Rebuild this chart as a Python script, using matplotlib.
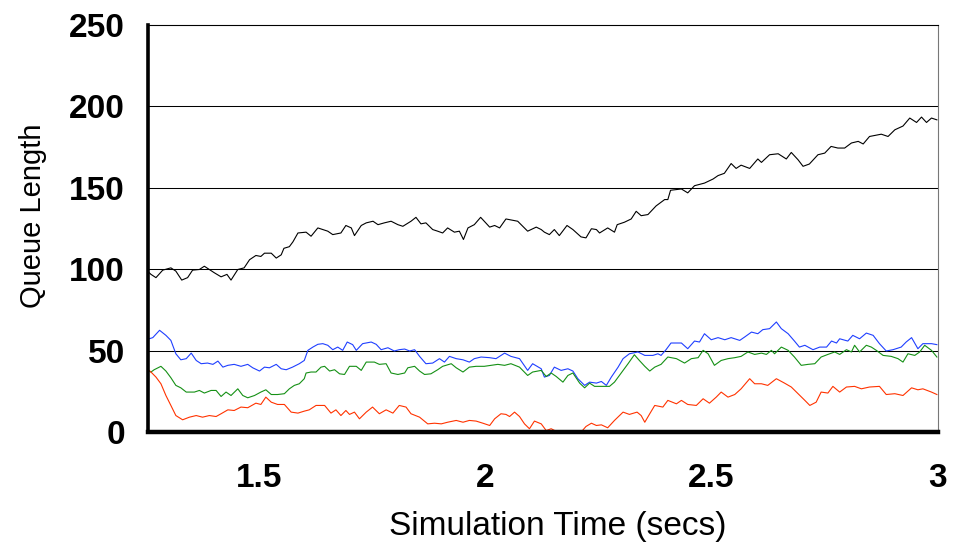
import matplotlib
matplotlib.use("Agg")
import matplotlib.pyplot as plt
import numpy as np

# ---------------- data ----------------
black_t = [1.257, 1.261, 1.272, 1.287, 1.305, 1.316, 1.329, 1.342, 1.353, 1.368, 1.379,
           1.390, 1.401, 1.416, 1.429, 1.438, 1.453, 1.467, 1.479, 1.493, 1.504,
           1.512, 1.527, 1.538, 1.549, 1.555, 1.567, 1.575, 1.586, 1.604, 1.615,
           1.630, 1.641, 1.652, 1.663, 1.681, 1.692, 1.704, 1.711, 1.726, 1.737,
           1.752, 1.763, 1.777, 1.792, 1.807, 1.818, 1.836, 1.847, 1.858, 1.869,
           1.884, 1.895, 1.906, 1.917, 1.932, 1.943, 1.952, 1.962, 1.976, 1.990,
           2.010, 2.021, 2.032, 2.046, 2.072, 2.094, 2.113, 2.124,
           2.131, 2.142, 2.153, 2.164, 2.181, 2.194, 2.212, 2.223, 2.235, 2.246,
           2.253, 2.271, 2.286, 2.292, 2.308, 2.323, 2.334, 2.345, 2.360, 2.378,
           2.397, 2.404, 2.410, 2.434, 2.448, 2.463, 2.485, 2.504, 2.515, 2.529,
           2.544, 2.555, 2.566, 2.585, 2.603, 2.611, 2.629, 2.648, 2.666, 2.677,
           2.692, 2.703, 2.717, 2.736, 2.751, 2.765, 2.780, 2.795, 2.810, 2.825,
           2.836, 2.850, 2.876, 2.891, 2.906, 2.924, 2.939, 2.954, 2.965, 2.976,
           2.987, 2.999]
black_q = [98, 97, 95, 99.6, 101, 99, 93.5, 95, 99.6, 100, 102,
           100, 98, 95.5, 97, 93.5, 100, 101, 106, 108.6, 108,
           110, 110, 107, 109, 113, 114, 117, 122.4, 122.9, 120.4,
           125.5, 124.5, 123.5, 121.4, 122.4, 127, 125.5, 120.8, 127, 128.6,
           129.6, 127.5, 128.6, 129.6, 127.5, 126.5, 129.6, 132, 128, 128.6,
           124.5, 123.5, 122.4, 125.5, 122.9, 123.5, 118.4, 125.5, 127.5, 132,
           126, 127, 125.5, 131, 129.6, 123.5, 126, 124.5,
           122.9, 121.4, 124.5, 120.8, 127, 124.5, 120, 119.4, 125, 124.5,
           122.4, 125.5, 122.9, 127.5, 129, 131, 135.7, 133, 133.7, 139,
           142.9, 142.9, 148.6, 149.4, 147, 151.4, 153, 155.5, 157.6, 159,
           165, 162, 164, 162, 167.8, 165.7, 170.4, 171, 167.8, 171.8,
           167.3, 163.3, 164.7, 170.4, 171.4, 175.5, 174.5, 174.5, 177.6, 178.6,
           177, 181.6, 183, 181.6, 185.7, 188, 192.9, 190.2, 193.5, 190.2,
           192.9, 191.8]

blue_t = [1.257, 1.265, 1.280, 1.294, 1.305, 1.316, 1.327, 1.339, 1.350, 1.361, 1.372,
          1.386, 1.398, 1.409, 1.420, 1.431, 1.445, 1.460, 1.475, 1.486, 1.501,
          1.512, 1.523, 1.538, 1.549, 1.560, 1.574, 1.589, 1.600, 1.608, 1.619,
          1.630, 1.641, 1.652, 1.663, 1.674, 1.685, 1.695, 1.707, 1.715, 1.729,
          1.748, 1.759, 1.770, 1.785, 1.799, 1.810, 1.822, 1.833, 1.844, 1.855,
          1.869, 1.884, 1.899, 1.910, 1.921, 1.936, 1.951, 1.965, 1.976, 1.991,
          2.010, 2.024, 2.043, 2.057, 2.076, 2.094, 2.105, 2.124,
          2.131, 2.142, 2.153, 2.168, 2.183, 2.194, 2.205, 2.220, 2.231, 2.246,
          2.257, 2.268, 2.279, 2.294, 2.305, 2.319, 2.338, 2.353, 2.371, 2.382,
          2.389, 2.400, 2.411, 2.434, 2.448, 2.463, 2.474, 2.485, 2.500, 2.515,
          2.530, 2.544, 2.563, 2.574, 2.589, 2.603, 2.614, 2.629, 2.644, 2.655,
          2.670, 2.684, 2.695, 2.707, 2.725, 2.740, 2.755, 2.766, 2.777, 2.784,
          2.802, 2.813, 2.828, 2.843, 2.858, 2.872, 2.887, 2.902, 2.920, 2.931,
          2.943, 2.957, 2.968, 2.987, 2.999]
blue_q = [57.5, 58.2, 62.7, 59.6, 56.5, 48.3, 44.6, 45.3, 48.7, 44.2, 42.2,
          42.6, 41.8, 43.8, 40.1, 41.2, 41.8, 40.6, 41.8, 39.7, 37.7,
          40.1, 39.7, 41.8, 39.1, 38.5, 40.1, 42.2, 44.2, 50.4, 52.4,
          54.1, 54.5, 53.5, 50.8, 52.4, 50.4, 55.5, 53.9, 50.4, 54.5,
          55.5, 54.1, 50.8, 52.0, 50.0, 50.8, 51.2, 50.0, 50.8, 46.7,
          42.2, 42.6, 45.3, 43.2, 46.7, 45.3, 44.6, 43.2, 45.3, 46.3,
          45.9, 45.3, 48.7, 46.7, 45.3, 38.1, 42.2, 39.1,
          34.0, 35.0, 40.1, 38.1, 39.1, 37.7, 33.0, 28.9, 30.9, 30.3,
          31.3, 28.9, 34.0, 40.1, 45.3, 48.3, 49.4, 47.3, 47.3, 48.3,
          47.3, 50.8, 54.9, 54.9, 51.4, 56.1, 55.5, 60.6, 56.9, 58.2,
          56.9, 58.2, 56.5, 58.6, 61.6, 60.6, 63.1, 63.7, 67.8, 63.7,
          60.6, 56.1, 52.4, 53.5, 50.8, 52.4, 52.4, 56.1, 54.9, 57.5,
          56.1, 59.6, 57.5, 61.0, 59.6, 54.5, 50.0, 50.8, 52.4, 55.5,
          58.2, 51.4, 54.5, 54.5, 53.9]

green_t = [1.257, 1.261, 1.268, 1.283, 1.294, 1.305, 1.316, 1.327, 1.339, 1.357, 1.368,
           1.379, 1.394, 1.405, 1.416, 1.427, 1.438, 1.453, 1.464, 1.475, 1.490,
           1.504, 1.515, 1.527, 1.541, 1.556, 1.567, 1.578, 1.589, 1.600, 1.604,
           1.615, 1.626, 1.637, 1.645, 1.656, 1.667, 1.678, 1.689, 1.700, 1.715,
           1.726, 1.737, 1.755, 1.766, 1.781, 1.792, 1.807, 1.822, 1.829, 1.844,
           1.855, 1.866, 1.880, 1.895, 1.906, 1.925, 1.936, 1.951, 1.965, 1.980,
           1.998, 2.013, 2.028, 2.043, 2.057, 2.076, 2.094, 2.105, 2.124,
           2.135, 2.146, 2.157, 2.172, 2.183, 2.194, 2.209, 2.220, 2.231,
           2.242, 2.257, 2.275, 2.286, 2.301, 2.316, 2.330, 2.341, 2.353, 2.364,
           2.375, 2.389, 2.404, 2.423, 2.441, 2.456, 2.471, 2.482, 2.493, 2.507,
           2.522, 2.537, 2.552, 2.566, 2.581, 2.596, 2.611, 2.622, 2.633, 2.640,
           2.655, 2.670, 2.684, 2.699, 2.714, 2.729, 2.743, 2.758, 2.773, 2.784,
           2.799, 2.810, 2.817, 2.828, 2.843, 2.854, 2.865, 2.880, 2.898, 2.913,
           2.924, 2.935, 2.950, 2.961, 2.972, 2.987, 2.999]
green_q = [37.5, 37.1, 38.5, 40.6, 37.7, 33.6, 28.9, 27.4, 24.8, 24.8, 25.8,
           24.2, 25.8, 25.8, 22.1, 24.8, 22.7, 26.8, 22.7, 21.3, 22.7,
           24.8, 26.2, 23.3, 23.3, 23.8, 26.8, 28.9, 29.9, 33.0, 36.5,
           37.1, 37.1, 40.1, 40.6, 37.7, 38.5, 36.0, 35.6, 40.6, 40.6,
           38.1, 43.2, 43.2, 41.8, 42.2, 36.5, 35.6, 36.5, 39.7, 40.6,
           37.7, 35.6, 36.0, 38.5, 40.6, 42.2, 39.7, 37.1, 40.1, 40.6,
           40.6, 41.2, 41.8, 41.2, 42.2, 40.1, 35.0, 37.1, 38.1,
           34.4, 36.5, 34.4, 30.9, 35.0, 36.5, 30.3, 27.4, 30.3,
           28.3, 28.3, 28.3, 30.9, 36.5, 42.2, 47.7, 44.2, 40.6, 37.7,
           40.1, 41.8, 46.3, 45.3, 42.6, 45.3, 45.9, 50.4, 48.3, 41.2,
           44.2, 45.3, 45.9, 46.7, 49.4, 47.9, 48.7, 47.9, 50.4, 48.3,
           52.4, 50.4, 46.3, 41.2, 41.8, 42.2, 46.3, 47.9, 49.4, 47.9,
           50.8, 49.4, 53.5, 49.4, 53.5, 52.4, 50.4, 47.3, 46.7, 45.3,
           43.2, 48.3, 47.3, 49.4, 53.5, 50.4, 46.3]

red_t = [1.257, 1.261, 1.272, 1.283, 1.294, 1.305, 1.316, 1.331, 1.346, 1.361, 1.375,
         1.390, 1.405, 1.416, 1.431, 1.445, 1.460, 1.475, 1.493, 1.504, 1.515,
         1.527, 1.541, 1.556, 1.571, 1.586, 1.600, 1.611, 1.626, 1.645, 1.659,
         1.670, 1.681, 1.692, 1.700, 1.711, 1.722, 1.737, 1.751, 1.766, 1.781,
         1.796, 1.810, 1.825, 1.836, 1.855, 1.873, 1.888, 1.903, 1.917, 1.936,
         1.951, 1.965, 1.980, 1.995, 2.010, 2.021, 2.035, 2.046, 2.054, 2.065,
         2.076, 2.087, 2.098, 2.109, 2.124,
         2.135, 2.146, 2.161, 2.183, 2.212, 2.223, 2.235, 2.246, 2.257,
         2.271, 2.286, 2.305, 2.319, 2.336, 2.345, 2.353, 2.364, 2.375, 2.393,
         2.404, 2.423, 2.434, 2.448, 2.467, 2.482, 2.496, 2.511, 2.522, 2.537,
         2.552, 2.566, 2.585, 2.596, 2.611, 2.625, 2.644, 2.662, 2.677, 2.692,
         2.707, 2.718, 2.732, 2.743, 2.758, 2.769, 2.784, 2.799, 2.817, 2.832,
         2.850, 2.872, 2.887, 2.906, 2.924, 2.943, 2.957, 2.968, 2.987, 2.999]
red_q = [38.0, 37.1, 34.0, 29.9, 22.7, 16.6, 10.4, 7.8, 9.4, 10.4, 9.4,
         10.4, 9.8, 11.5, 13.9, 13.5, 15.6, 15.2, 18.0, 17.2, 21.7,
         18.6, 17.2, 17.2, 12.5, 11.9, 13.1, 13.9, 16.6, 16.6, 11.9,
         13.9, 10.4, 13.5, 11.1, 12.5, 8.4, 12.5, 15.6, 11.5, 13.9,
         11.9, 16.6, 15.6, 11.5, 9.4, 5.3, 5.7, 5.3, 6.3, 7.4,
         6.3, 7.4, 7.0, 5.7, 4.3, 8.4, 11.5, 11.1, 9.8, 12.5,
         9.8, 5.3, 2.3, 7.0, 5.3,
         1.2, 2.3, 0.2, 0.6, 0.2, 3.7, 5.7, 4.3, 4.7,
         2.9, 7.4, 12.5, 11.1, 12.5, 10.4, 6.3, 11.5, 16.6, 15.6,
         19.7, 17.6, 19.7, 17.2, 16.6, 20.7, 18.0, 21.7, 24.8, 21.7,
         23.3, 26.8, 33.0, 29.9, 29.9, 28.9, 33.0, 30.3, 27.9, 23.8,
         19.7, 16.6, 18.6, 24.8, 24.2, 28.3, 24.8, 27.9, 28.3, 26.8,
         27.9, 28.3, 23.3, 23.8, 22.7, 27.4, 26.2, 26.8, 24.8, 23.3]

y_ticks = [0, 50, 100, 150, 200, 250]
x_ticks = [1.5, 2, 2.5, 3]
x_tick_labels = ["1.5", "2", "2.5", "3"]

series = [
    (black_t, black_q, "#000000"),
    (blue_t, blue_q, "#1f3fff"),
    (green_t, green_q, "#159015"),
    (red_t, red_q, "#ff3300"),
]

# ---------------- plot ----------------
plt.rcParams['font.family'] = ['Liberation Sans', 'DejaVu Sans']

fig = plt.figure(figsize=(9.63, 5.43), dpi=100)
ax = fig.add_axes([0.1542, 0.2035, 0.8201, 0.7505])

for yv in y_ticks[1:-1]:
    ax.axhline(yv, color="#000000", lw=0.75, zorder=1)

for t, q, c in series:
    assert len(t) == len(q)
    ax.plot(t, q, color=c, lw=0.8, zorder=3)

ax.set_xlim(1.2555, 3.002)
ax.set_ylim(0, 250)
ax.set_xticks(x_ticks)
ax.set_xticklabels(x_tick_labels)
ax.set_yticks(y_ticks)
ax.tick_params(axis='both', length=0, labelsize=24)
ax.tick_params(axis='y', pad=17)
ax.tick_params(axis='x', pad=22)
for lab in ax.get_xticklabels() + ax.get_yticklabels():
    lab.set_fontweight('bold')

ax.spines['left'].set_linewidth(2.6)
ax.spines['bottom'].set_linewidth(3.2)
ax.spines['top'].set_linewidth(0.8)
ax.spines['right'].set_linewidth(0.8)
ax.spines['right'].set_color('#777777')
for s in ax.spines.values():
    s.set_zorder(4)

fig.text(558 / 963, 1 - 527 / 543, "Simulation Time (secs)", fontsize=24,
         ha='center', va='center')
fig.text(33 / 963, 1 - 216 / 543, "Queue Length", fontsize=21,
         ha='center', va='center', rotation=90)

fig.savefig("out.png", dpi=100)
